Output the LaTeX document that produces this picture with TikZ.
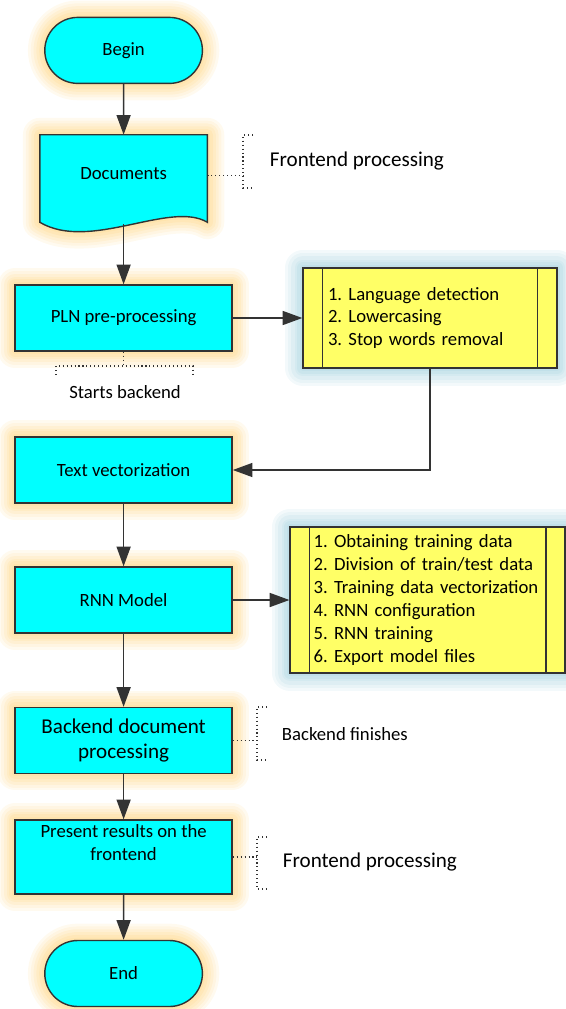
\documentclass[tikz,border=0pt]{standalone}
\usepackage{fontspec}
\setmainfont{Carlito}
\usepackage{tikz}
\usetikzlibrary{arrows.meta,shapes.misc,backgrounds}
\definecolor{boxcyan}{HTML}{00FFFF}
\definecolor{stepyellow}{HTML}{FFFF66}
\definecolor{glowgold}{HTML}{FFCC66}
\definecolor{glowblue}{HTML}{8CC6D6}
\definecolor{edge}{HTML}{333333}
\newcommand{\boxfont}{\fontsize{13.3}{16}\selectfont}
\newcommand{\bigfont}{\fontsize{15}{18.4}\selectfont}
\frenchspacing

\begin{document}
\begin{tikzpicture}
\useasboundingbox (0,0) rectangle (14.15,-25.225);
\tikzstyle{goldglow}=[preaction={draw=glowgold,draw opacity=0.1,line width=24pt,line join=round},
	preaction={draw=glowgold,draw opacity=0.1,line width=20pt,line join=round},
	preaction={draw=glowgold,draw opacity=0.12,line width=16pt,line join=round},
	preaction={draw=glowgold,draw opacity=0.12,line width=12pt,line join=round},
	preaction={draw=glowgold,draw opacity=0.14,line width=8pt,line join=round},
	preaction={draw=glowgold,draw opacity=0.14,line width=4pt,line join=round}]
\tikzstyle{blueglow}=[preaction={draw=glowblue,draw opacity=0.1,line width=26pt,line join=round},
	preaction={draw=glowblue,draw opacity=0.1,line width=22pt,line join=round},
	preaction={draw=glowblue,draw opacity=0.12,line width=17pt,line join=round},
	preaction={draw=glowblue,draw opacity=0.12,line width=12pt,line join=round},
	preaction={draw=glowblue,draw opacity=0.14,line width=8pt,line join=round},
	preaction={draw=glowblue,draw opacity=0.14,line width=4pt,line join=round}]
\tikzstyle{proc}=[draw=edge,line width=1pt,fill=boxcyan,goldglow,minimum width=5.425cm,minimum height=1.65cm,align=center,font=\boxfont]
\tikzstyle{term}=[rounded rectangle,draw=edge,line width=1pt,fill=boxcyan,goldglow,minimum width=4.175cm,minimum height=1.65cm,font=\boxfont]
\tikzstyle{steps}=[draw=edge,line width=1pt,fill=stepyellow,blueglow,align=left,inner sep=0pt,font=\fontsize{13.3}{16.3}\selectfont]
\tikzstyle{flow}=[->,>={Triangle[length=14pt,width=10pt]},line width=1pt,edge]
\tikzstyle{note}=[dotted,line width=0.8pt,black!80]

% main column
\node[term] (begin)at(3.09,-1.26) {Begin};
\node[minimum width=4.175cm,minimum height=2.175cm,text depth=0.275cm,font=\boxfont] (docs)at(3.09,-4.4625) {Documents};
\begin{scope}[on background layer]
\draw[draw=edge,line width=1pt,fill=boxcyan,goldglow] (docs.north west)--(docs.north east)--(docs.south east)
	.. controls ([shift={(1.1625,-0.5375)}]docs.center) and ([shift={(-0.8375,-1.8375)}]docs.center) .. (docs.south west)--cycle;
\end{scope}
\node[proc] (pln)at(3.09,-7.95) {PLN pre-processing};
\node[proc] (textvec)at(3.09,-11.75) {Text vectorization};
\node[proc] (rnn)at(3.09,-15.0) {RNN Model};
\node[proc,font=\bigfont] (backend)at(3.09,-18.5125) {Backend document\\processing};
\node[proc,text depth=0.73cm] (present)at(3.09,-21.425) {Present results on the\\frontend};
\node[term] (end)at(3.09,-24.3375) {End};

% sub-steps
\node[steps,minimum width=6.35cm,minimum height=2.5cm,text width=5.1cm] (lang)at(10.75,-7.95)
	{1. Language detection\\2. Lowercasing\\3. Stop words removal};
\node[steps,minimum width=6.875cm,minimum height=3.65cm,text width=5.7cm] (train)at(10.69,-15.0)
	{1. Obtaining training data\\2. Division of train/test data\\3. Training data vectorization\\4. RNN configuration\\5. RNN training\\6. Export model files};
\foreach \s in {lang,train}{
	\draw[edge,line width=1pt] ([xshift=0.5cm]\s.north west)--([xshift=0.5cm]\s.south west);
	\draw[edge,line width=1pt] ([xshift=-0.5cm]\s.north east)--([xshift=-0.5cm]\s.south east);
}

\draw[flow](begin)--(docs);
\draw[flow]([yshift=-0.05cm]docs.south)--(pln);
\draw[flow](pln)--(lang);
\draw[flow](lang.south)|-(textvec.east);
\draw[flow](textvec)--(rnn);
\draw[flow](rnn)--(train);
\draw[flow](rnn)--(backend);
\draw[flow](backend)--(present);
\draw[flow](present)--(end);

% annotations
\node[anchor=west,font=\bigfont] (fe1)at(6.625,-4.025) {Frontend processing};
\coordinate (fe1top) at (6.075,-3.375);
\coordinate (fe1bot) at (6.075,-4.7);
\draw[note]([xshift=0.25cm]fe1top)--(fe1top)--(fe1bot)--([xshift=0.25cm]fe1bot);
\draw[note](docs.mid east)--(docs.mid east -| fe1top);

\node[font=\boxfont] (sback)at(3.125,-9.8) {Starts backend};
\coordinate (sbl) at (1.4,-9.15);
\coordinate (sbr) at (4.825,-9.15);
\draw[note]([yshift=-0.225cm]sbl)--(sbl)--(sbr)--([yshift=-0.225cm]sbr);
\draw[note](pln.south)--(pln.south |- sbl);

\node[anchor=west,font=\boxfont] (bfin)at(6.925,-18.35) {Backend finishes};
\coordinate (bftop) at (6.425,-17.675);
\coordinate (bfbot) at (6.425,-19.0);
\draw[note]([xshift=0.25cm]bftop)--(bftop)--(bfbot)--([xshift=0.25cm]bfbot);
\draw[note](backend.east)--(backend.east -| bftop);

\node[anchor=west,font=\bigfont] (fe2)at(6.95,-21.55) {Frontend processing};
\coordinate (fe2top) at (6.425,-20.925);
\coordinate (fe2bot) at (6.425,-22.225);
\draw[note]([xshift=0.25cm]fe2top)--(fe2top)--(fe2bot)--([xshift=0.25cm]fe2bot);
\draw[note](present.east)--(present.east -| fe2top);
\end{tikzpicture}
\end{document}
